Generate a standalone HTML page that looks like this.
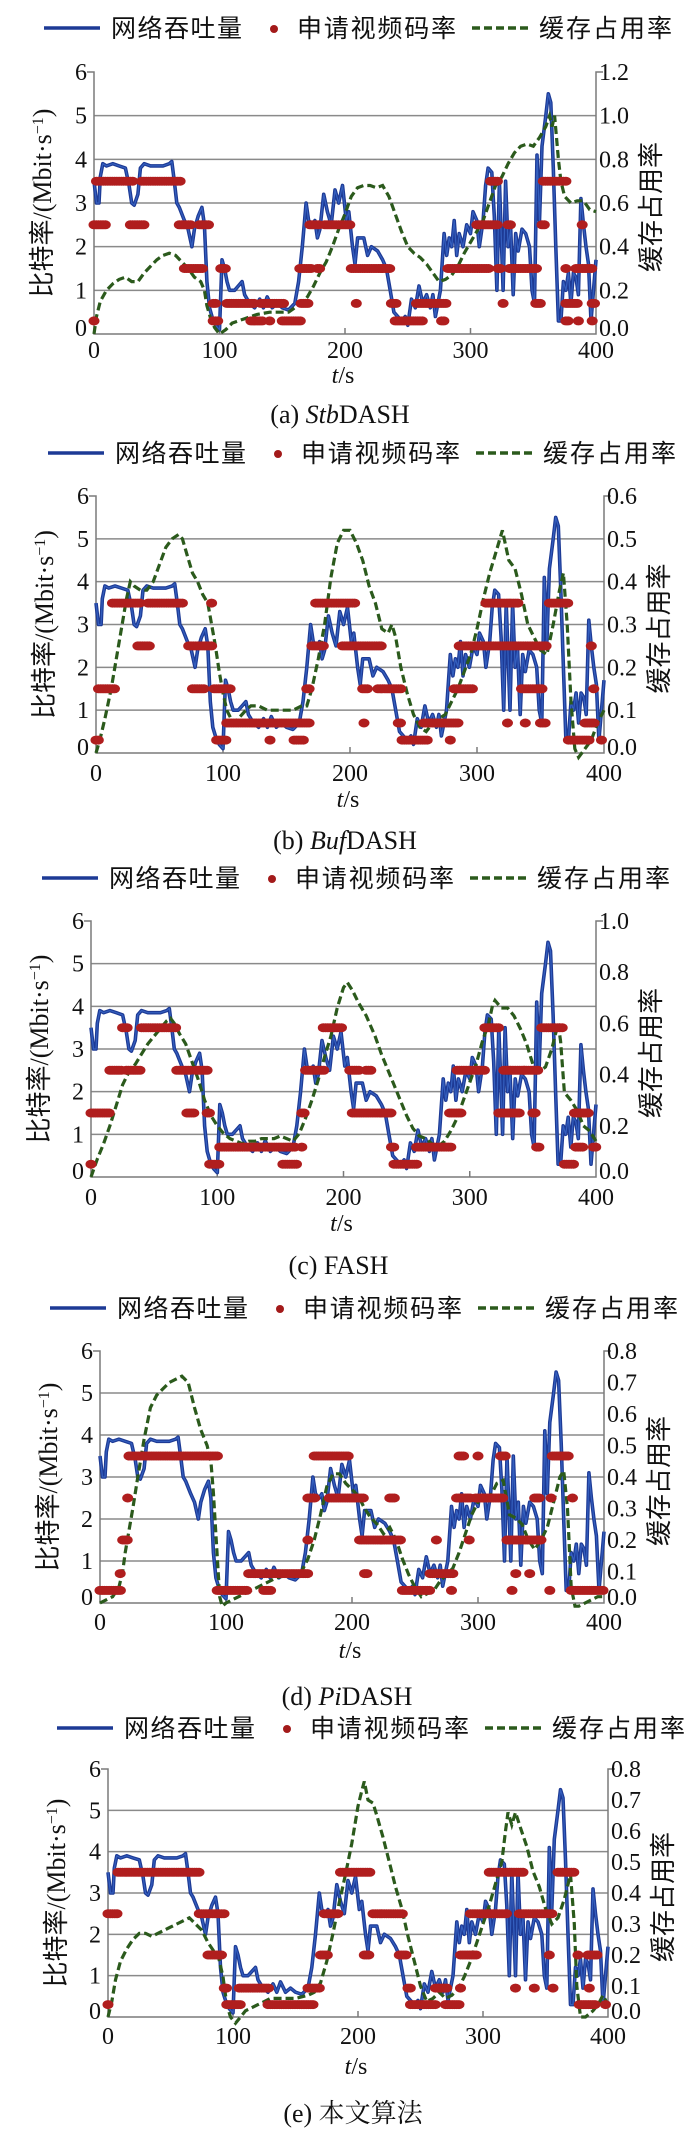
<!DOCTYPE html>
<html><head><meta charset="utf-8"><style>
html,body{margin:0;padding:0;background:#fff;}
svg{display:block;}
.tk{font-family:"Liberation Serif",serif;font-size:24px;fill:#111;}
.cj{font-family:"Liberation Sans","Noto Sans CJK SC",sans-serif;font-size:25px;fill:#111;}
.cap{font-family:"Liberation Serif","Noto Serif CJK SC",serif;font-size:26px;fill:#111;}
</style></head><body>
<svg id="fig" width="699" height="2135" viewBox="0 0 699 2135" xmlns="http://www.w3.org/2000/svg"></svg>
<script>
// shared network throughput (Mbit/s)
const thrT=[0,2,4,5,7,10,15,20,25,28,30,32,35,37,40,45,50,55,60,62,64,66,68,72,75,78,80,83,86,88,90,92,95,97,100,102,104,106,108,112,115,118,120,124,128,132,135,138,142,146,150,155,160,163,166,169,171,174,176,178,180,183,186,189,192,195,198,201,203,206,208,210,215,218,221,226,230,233,236,239,242,245,248,250,253,256,259,262,265,268,270,272,274,276,279,281,283,285,287,289,291,294,297,300,302,305,307,310,312,314,317,319,321,323,326,328,330,332,334,336,338,341,344,347,349,351,353,355,357,360,362,364,366,368,370,372,374,376,378,380,382,384,386,388,390,392,394,396,398,400];
const thrV=[3.5,3.0,3.0,3.6,3.9,3.85,3.9,3.85,3.8,3.4,3.0,2.95,3.2,3.8,3.9,3.85,3.85,3.85,3.9,3.95,3.5,3.0,2.9,2.6,2.4,2.0,2.4,2.7,2.9,2.5,1.2,0.6,0.3,0.2,0.1,1.7,1.5,1.2,1.0,1.0,1.1,1.2,0.9,0.7,0.6,0.8,0.6,0.85,0.6,0.7,0.6,0.55,0.7,1.2,2.0,3.0,2.6,2.5,2.6,2.2,2.4,3.2,2.8,2.5,3.3,3.0,3.4,2.6,2.8,2.0,1.6,2.2,2.2,1.8,2.0,1.9,1.7,1.5,1.0,0.5,0.4,0.3,0.4,0.2,0.8,0.6,1.1,0.7,0.9,0.6,0.9,0.4,0.7,1.0,2.3,1.8,2.2,2.0,2.6,1.8,2.3,2.0,2.5,2.3,2.8,2.6,2.0,2.6,3.4,3.8,3.7,2.7,1.0,3.5,1.0,3.5,2.0,2.4,0.9,2.3,1.9,2.4,2.3,2.0,1.0,0.7,4.1,2.6,4.3,5.0,5.5,5.3,3.8,2.0,0.3,0.3,1.2,1.0,1.4,0.7,1.4,1.3,0.9,3.1,2.5,2.0,1.6,0.3,1.0,1.7];

// (a) StbDASH
const bufT_a=[0,2,5,10,15,20,25,30,35,40,45,50,55,60,65,70,75,80,85,88,90,93,96,100,105,110,115,120,125,130,140,150,155,160,165,170,175,180,185,190,195,200,205,210,215,220,225,230,235,240,245,250,255,260,265,270,275,280,285,290,295,300,305,310,315,320,325,330,335,340,345,350,355,360,363,365,367,370,372,375,380,385,390,395,400];
const bufV_a=[0,0.08,0.15,0.2,0.23,0.25,0.26,0.24,0.24,0.28,0.31,0.34,0.36,0.37,0.36,0.33,0.3,0.26,0.24,0.2,0.13,0.07,0.03,0,0.02,0.05,0.06,0.07,0.08,0.09,0.1,0.1,0.1,0.12,0.14,0.17,0.22,0.28,0.33,0.4,0.48,0.55,0.63,0.67,0.68,0.68,0.67,0.68,0.63,0.55,0.47,0.4,0.37,0.35,0.32,0.28,0.24,0.25,0.27,0.31,0.37,0.42,0.47,0.52,0.6,0.68,0.72,0.78,0.83,0.86,0.87,0.86,0.9,0.95,1.0,0.95,1.0,0.8,0.7,0.63,0.6,0.61,0.61,0.57,0.56];
const runS_a=[0,0,2,29,38,68,84,72,101,95,95,106,125,133,140,150,165,164,172,184,178,209,205,237,240,257,277,282,305,316,322,326,330,331,352,357,358,376,376,376,386,397,389,384,397];
const runE_a=[1,10,32,40,70,78,92,88,105,100,97,128,135,152,141,165,172,174,180,205,181,209,237,241,262,282,279,315,322,323,324,326,332,354,357,360,376,376,385,379,386,397,389,397,399];
const runL_a=[0.3,2.5,3.5,2.5,3.5,2.5,2.5,1.5,1.5,0.3,0.7,0.7,0.3,0.7,0.3,0.3,0.7,1.5,2.5,2.5,1.5,0.7,1.5,0.7,0.3,0.7,0.3,1.5,2.5,3.5,1.5,0.7,2.5,1.5,0.7,2.5,3.5,1.5,0.7,0.3,0.3,0.3,2.5,1.5,0.7];

// (b) BufDASH
const bufT_b=[0,3,7,12,16,20,24,27,30,35,40,45,50,55,60,65,68,72,76,80,84,88,91,94,97,100,103,108,112,118,122,128,135,145,155,162,166,170,175,180,185,190,195,200,205,210,215,220,225,230,233,236,240,245,250,255,260,265,270,275,280,285,290,295,300,305,310,315,320,325,330,335,340,345,350,355,360,365,368,371,374,377,380,385,390,395,400];
const bufV_b=[0,0.03,0.08,0.15,0.22,0.29,0.36,0.4,0.39,0.38,0.38,0.4,0.44,0.48,0.5,0.51,0.5,0.46,0.42,0.4,0.37,0.35,0.3,0.25,0.19,0.14,0.1,0.07,0.08,0.1,0.11,0.11,0.1,0.1,0.1,0.11,0.11,0.15,0.22,0.3,0.41,0.49,0.52,0.52,0.49,0.45,0.39,0.35,0.29,0.28,0.3,0.27,0.2,0.14,0.09,0.06,0.05,0.07,0.08,0.09,0.12,0.15,0.19,0.23,0.29,0.36,0.42,0.47,0.52,0.45,0.43,0.37,0.3,0.27,0.24,0.23,0.3,0.38,0.42,0.3,0.12,0.01,-0.01,0.01,0.03,0.07,0.1];
const runS_b=[0,2,13,33,41,91,73,76,93,95,103,137,156,166,170,173,194,210,211,222,238,241,258,279,282,286,307,324,338,335,350,357,372,385,390,392,398];
const runE_b=[2,16,36,43,69,91,91,85,107,103,168,137,164,169,180,205,225,215,211,240,241,262,285,279,298,355,333,324,338,352,355,372,389,393,390,392,398];
const runL_b=[0.3,1.5,3.5,2.5,3.5,3.5,2.5,1.5,1.5,0.3,0.7,0.3,0.3,1.5,2.5,3.5,2.5,1.5,0.7,1.5,0.7,0.3,0.7,0.3,1.5,2.5,3.5,0.7,0.7,1.5,0.7,3.5,0.3,0.7,2.5,1.5,0.3];

// (c) FASH
const bufT_c=[0,5,10,15,20,25,30,35,40,45,50,55,60,63,66,70,75,80,85,90,95,100,105,110,115,120,125,130,135,140,145,150,155,160,165,170,175,180,185,190,195,200,203,207,212,218,225,230,235,240,245,250,255,260,265,270,275,280,285,290,295,300,305,310,315,318,320,325,330,335,340,345,350,355,360,365,370,372,375,380,385,390,395,400];
const bufV_c=[0,0.07,0.13,0.2,0.28,0.36,0.41,0.44,0.48,0.52,0.55,0.58,0.61,0.62,0.6,0.56,0.52,0.45,0.38,0.3,0.24,0.2,0.17,0.15,0.14,0.13,0.14,0.14,0.15,0.15,0.15,0.16,0.15,0.14,0.17,0.23,0.3,0.38,0.47,0.55,0.66,0.74,0.76,0.73,0.68,0.63,0.55,0.48,0.42,0.36,0.3,0.24,0.19,0.16,0.15,0.13,0.12,0.14,0.18,0.23,0.3,0.37,0.44,0.53,0.6,0.67,0.69,0.66,0.66,0.63,0.58,0.52,0.44,0.41,0.43,0.5,0.6,0.53,0.33,0.3,0.26,0.2,0.18,0.14];
const runS_c=[0,0,15,25,28,40,68,83,76,92,94,102,152,167,167,170,184,205,218,207,238,240,258,284,290,312,327,323,343,350,353,357,375,384,383,398];
const runE_c=[0,16,25,30,40,68,80,92,82,94,102,163,164,167,170,186,200,213,222,238,240,258,285,294,312,323,344,340,355,352,355,374,383,390,395,400];
const runL_c=[0.3,1.5,2.5,3.5,2.5,3.5,2.5,2.5,1.5,1.5,0.3,0.7,0.3,0.7,1.5,2.5,3.5,2.5,2.5,1.5,0.7,0.3,0.7,1.5,2.5,3.5,2.5,1.5,2.5,1.5,0.7,3.5,0.3,0.7,1.5,0.7];

// (d) PiDASH
const bufT_d=[0,5,10,15,18,20,23,26,30,35,40,45,50,55,60,65,70,75,80,85,88,90,93,95,97,100,105,110,115,120,125,130,135,140,150,155,160,165,170,175,180,185,190,195,200,205,210,215,220,225,230,235,240,245,250,255,260,265,270,275,280,285,290,295,300,305,310,315,320,325,330,335,340,345,350,355,360,365,368,371,374,377,380,385,390,395,400];
const bufV_d=[0,0.01,0.02,0.05,0.1,0.16,0.23,0.3,0.4,0.52,0.62,0.66,0.68,0.7,0.71,0.72,0.7,0.62,0.55,0.5,0.45,0.35,0.15,0.02,-0.01,0,0.01,0.02,0.03,0.04,0.05,0.06,0.07,0.08,0.09,0.09,0.1,0.14,0.2,0.28,0.37,0.41,0.41,0.38,0.36,0.34,0.3,0.27,0.25,0.22,0.24,0.2,0.14,0.09,0.05,0.02,0.03,0.04,0.07,0.09,0.11,0.16,0.22,0.28,0.32,0.34,0.34,0.38,0.39,0.28,0.27,0.25,0.2,0.17,0.2,0.24,0.32,0.4,0.42,0.3,0.05,-0.01,-0.01,0,0.01,0.02,0.02];
const runS_d=[0,16,18,22,23,93,118,130,165,165,170,182,206,210,230,240,262,279,267,285,300,283,293,298,318,330,341,327,357,323,345,358,359,375,374];
const runE_d=[17,16,22,22,94,118,165,136,165,172,197,210,240,213,235,263,280,279,267,290,300,295,293,320,323,330,341,327,357,350,350,358,373,375,400];
const runL_d=[0.3,0.7,1.5,2.5,3.5,0.3,0.7,0.3,1.5,2.5,3.5,2.5,1.5,0.7,2.5,0.3,0.7,0.3,1.5,3.5,3.5,2.5,1.5,2.5,3.5,0.7,0.7,0.3,0.3,1.5,2.5,2.5,3.5,2.5,0.3];

// (e) proposed
const bufT_e=[0,3,6,10,15,20,25,30,35,40,45,50,55,60,65,70,75,80,85,88,92,95,98,102,106,110,115,120,125,130,140,150,160,165,170,175,180,185,190,195,200,203,205,208,212,215,220,225,230,235,240,245,250,255,260,265,270,275,280,285,290,295,300,305,310,315,318,320,323,326,330,335,340,345,350,355,360,365,370,373,375,378,382,388,392,396,400];
const bufV_e=[0,0.05,0.12,0.18,0.22,0.25,0.27,0.27,0.26,0.27,0.28,0.29,0.3,0.31,0.32,0.3,0.28,0.24,0.21,0.2,0.13,0.04,0,-0.02,0,0.02,0.03,0.04,0.05,0.06,0.06,0.06,0.07,0.08,0.11,0.18,0.27,0.37,0.46,0.56,0.68,0.73,0.76,0.7,0.69,0.65,0.58,0.5,0.42,0.35,0.26,0.18,0.1,0.05,0.06,0.08,0.06,0.07,0.09,0.13,0.18,0.24,0.3,0.36,0.43,0.5,0.6,0.66,0.62,0.66,0.61,0.55,0.47,0.42,0.35,0.3,0.32,0.38,0.46,0.3,0.1,0,0,0.02,0.04,0.07,0.04];
const runS_e=[0,0,8,73,80,93,95,105,128,160,170,173,186,205,212,233,240,242,262,270,282,282,290,305,326,341,356,329,353,360,355,376,384,377,385,398];
const runE_e=[0,8,74,93,92,95,107,130,165,170,176,185,210,210,236,240,243,262,272,282,282,296,320,333,326,341,356,355,353,374,355,376,392,390,385,398];
const runL_e=[0.3,2.5,3.5,2.5,1.5,0.7,0.3,0.7,0.3,0.7,1.5,2.5,3.5,1.5,2.5,1.5,0.7,0.3,0.7,0.3,0.7,1.5,2.5,3.5,0.7,0.7,0.7,2.5,1.5,3.5,2.5,1.5,1.5,0.3,0.7,0.3];

const NS='http://www.w3.org/2000/svg';
const svg=document.getElementById('fig');
function mk(tag,attrs,parent){const e=document.createElementNS(NS,tag);for(const k in attrs)e.setAttribute(k,attrs[k]);(parent||svg).appendChild(e);return e;}
function txt(s,x,y,cls,anchor,parent){const t=mk('text',{x:x,y:y,class:cls,'text-anchor':anchor||'start'},parent);t.textContent=s;return t;}

const panels=[
 {id:'a',L:94,R:596,T:72,B:334,bmax:1.2,bstep:0.2,bdec:1,leg:28,lx:0,xl:350,ts:375,cap:414,capParts:[['(a) ',''],['Stb','italic'],['DASH','']],bt:bufT_a,bv:bufV_a,rs:runS_a,re:runE_a,rl:runL_a},
 {id:'b',L:96,R:604,T:496,B:753,bmax:0.6,bstep:0.1,bdec:1,leg:453,lx:4,xl:773,ts:799,cap:840,capParts:[['(b) ',''],['Buf','italic'],['DASH','']],bt:bufT_b,bv:bufV_b,rs:runS_b,re:runE_b,rl:runL_b},
 {id:'c',L:91,R:596,T:921,B:1177,bmax:1.0,bstep:0.2,bdec:1,leg:878,lx:-2,xl:1197,ts:1223,cap:1265,capParts:[['(c) FASH','']],bt:bufT_c,bv:bufV_c,rs:runS_c,re:runE_c,rl:runL_c},
 {id:'d',L:100,R:604,T:1351,B:1603,bmax:0.8,bstep:0.1,bdec:1,leg:1308,lx:6,xl:1622,ts:1650,cap:1696,capParts:[['(d) ',''],['Pi','italic'],['DASH','']],bt:bufT_d,bv:bufV_d,rs:runS_d,re:runE_d,rl:runL_d},
 {id:'e',L:108,R:608,T:1769,B:2017,bmax:0.8,bstep:0.1,bdec:1,leg:1728,lx:13,xl:2036,ts:2066,cap:2113,capParts:[['(e) 本文算法','']],bt:bufT_e,bv:bufV_e,rs:runS_e,re:runE_e,rl:runL_e}
];

panels.forEach(p=>{
 const g=mk('g',{});
 
 
 const X=t=>p.L+(p.R-p.L)*t/400;
 const Y=v=>p.B-(p.B-p.T)*v/6;
 const YB=v=>p.B-(p.B-p.T)*v/p.bmax;
 const lg=mk('g',{},g);
 
 
 const ly=p.leg, o=p.lx;
 const l1=mk('line',{x1:44+o,y1:ly,x2:100+o,y2:ly,stroke:'#1d3a95','stroke-width':3.5},lg);
 
 const t1=txt('网络吞吐量',111+o,ly+9,'cj','start',lg);t1.setAttribute('textLength','131');
 
 const d1=mk('ellipse',{cx:274+o,cy:ly+1,rx:4,ry:4,fill:'#a31a1a'},lg);
 
 const t2=txt('申请视频码率',297+o,ly+9,'cj','start',lg);t2.setAttribute('textLength','159');
 
 const l3=mk('line',{x1:472+o,y1:ly,x2:530+o,y2:ly,stroke:'#2b5a1c','stroke-width':3.5,'stroke-dasharray':'8 4'},lg);
 
 const t3=txt('缓存占用率',539+o,ly+9,'cj','start',lg);t3.setAttribute('textLength','133');
 
 for(let v=1;v<=5;v++){
  const gl=mk('line',{x1:p.L,y1:Y(v),x2:p.R,y2:Y(v),stroke:'#8a8a8a','stroke-width':1.5},g);
  
 }
 const ax=mk('path',{d:`M${p.L-7},${p.T}H${p.L}V${p.B}H${p.R}V${p.T}H${p.R+7}`,fill:'none',stroke:'#7a7a7a','stroke-width':1.5},g);
 
 [100,200,300].forEach(t=>{mk('line',{x1:X(t),y1:p.B,x2:X(t),y2:p.B-6,stroke:'#7a7a7a','stroke-width':1.5},g);});
 for(let v=0;v<=6;v++){
  const yy=Y(v)+8-(v===0?6:0);
  const tl=txt(String(v),p.L-7,yy,'tk','end',g);
  
 }
 const nb=Math.round(p.bmax/p.bstep);
 for(let i=0;i<=nb;i++){
  const v=i*p.bstep;const yy=YB(v)+8-(i===0?6:0);
  const tl=txt(v.toFixed(p.bdec),p.R+3,yy,'tk','start',g);
  
 }
 [0,100,200,300,400].forEach(t=>{
  const tl=txt(String(t),X(t),p.xl+8,'tk','middle',g);
  
 });
 const xt=mk('text',{x:(p.L+p.R)/2-2,y:p.ts+8,class:'tk','text-anchor':'middle'},g);
 xt.innerHTML='<tspan font-style="italic">t</tspan>/s';
 
 const cy=(p.T+p.B)/2;
 const yt=mk('text',{x:0,y:0,class:'cj','text-anchor':'middle',transform:`translate(${p.L-43},${cy}) rotate(-90)`},g);
 yt.innerHTML='比特率/(Mbit·s<tspan baseline-shift="super" font-size="16">−1</tspan>)';
 yt.setAttribute('style','font-family:"Liberation Serif","Noto Sans CJK SC",serif;font-size:26px');
 
 const y2=mk('text',{x:0,y:0,class:'cj','text-anchor':'middle',transform:`translate(${p.R+64},${cy+4}) rotate(-90)`},g);
 y2.textContent='缓存占用率';y2.setAttribute('style','font-size:26px');
 
 let d='';thrT.forEach((t,i)=>{d+=(i?'L':'M')+X(t).toFixed(1)+','+Y(thrV[i]).toFixed(1);});
 const tp=mk('path',{d:d,fill:'none',stroke:'#1d3a95','stroke-width':3.6,'stroke-linejoin':'round'},g);
 
 const tp2=mk('path',{d:d,fill:'none',stroke:'#3f6fd0','stroke-width':1.2,'stroke-linejoin':'round',opacity:0.7},g);
 
 let db='';p.bt.forEach((t,i)=>{db+=(i?'L':'M')+X(t).toFixed(1)+','+YB(p.bv[i]).toFixed(1);});
 const bp=mk('path',{d:db,fill:'none',stroke:'#2b5a1c','stroke-width':3.2,'stroke-dasharray':'8 4'},g);
 
 p.rs.forEach((s,i)=>{
  const e=p.re[i];
  for(let t=s;t<=e+0.01;t+=1.8){
   const c=mk('ellipse',{cx:X(t).toFixed(1),cy:Y(p.rl[i]).toFixed(1),rx:5.5,ry:4.5,fill:'#b01e1e'},g);
   
   
  }
 });
 const cp=mk('text',{x:(p.L+p.R)/2-5,y:p.cap+9,class:'cap','text-anchor':'middle'},g);
 p.capParts.forEach(([s,st])=>{const ts=mk('tspan',{},cp);if(st)ts.setAttribute('font-style',st);ts.textContent=s;});
 
});
</script>
</body></html>
